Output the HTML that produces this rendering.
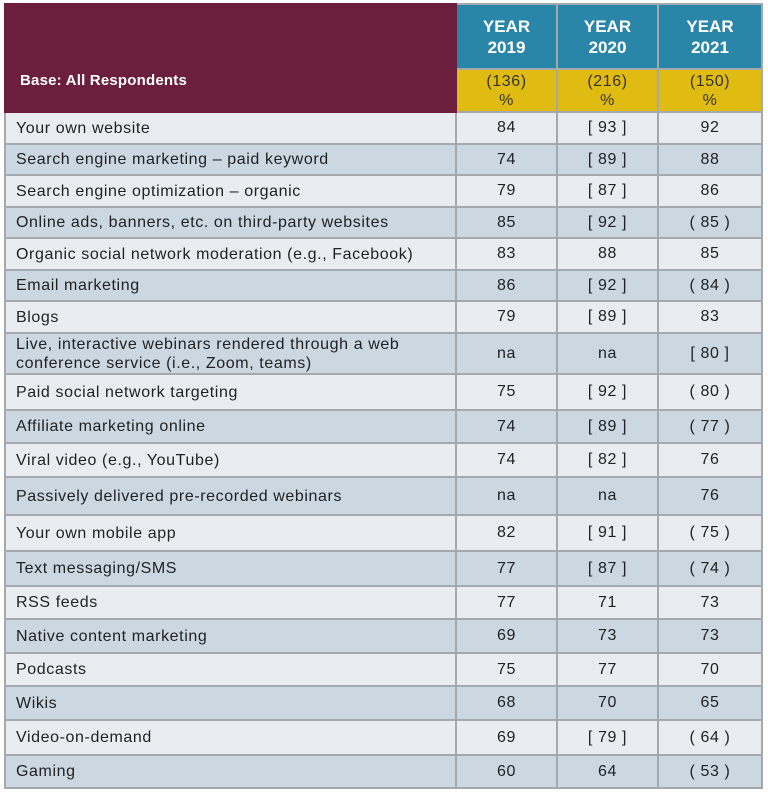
<!DOCTYPE html>
<html><head><style>
body{margin:0;width:768px;height:792px;background:#fff;overflow:hidden;font-family:"Liberation Sans",sans-serif;}
table{position:absolute;left:4px;top:3px;border-collapse:collapse;table-layout:fixed;width:757px;}
td{border:2px solid #a4a9ad;padding:0;font-size:16px;letter-spacing:0.6px;color:#222;}
td.l{padding-left:10px;line-height:19px;}
td.n{text-align:center;}
tr.a td{background:#e9edf1;}
tr.b td{background:#cbd7e1;}
.hm{background:#6b1f3c;color:#fff;font-weight:bold;font-size:15px;letter-spacing:0.2px;vertical-align:bottom;padding:0 0 22px 14px;border-color:#6b1f3c;}
.hb{background:#2a86a8;color:#fff;font-weight:bold;font-size:17px;letter-spacing:0;text-align:center;line-height:21px;}
.hy{background:#e0bb12;color:#333;text-align:center;font-size:16px;line-height:19px;}
</style></head><body>
<table>
<colgroup><col style="width:451px"><col style="width:101px"><col style="width:101px"><col style="width:104px"></colgroup>
<tr style="height:65px"><td class="hm" rowspan="2">Base: All Respondents</td><td class="hb">YEAR<br>2019</td><td class="hb">YEAR<br>2020</td><td class="hb">YEAR<br>2021</td></tr>
<tr style="height:43px"><td class="hy">(136)<br>%</td><td class="hy">(216)<br>%</td><td class="hy">(150)<br>%</td></tr>
<tr class="a" style="height:32px"><td class="l">Your own website</td><td class="n">84</td><td class="n">[ 93 ]</td><td class="n">92</td></tr>
<tr class="b" style="height:31px"><td class="l">Search engine marketing – paid keyword</td><td class="n">74</td><td class="n">[ 89 ]</td><td class="n">88</td></tr>
<tr class="a" style="height:32px"><td class="l">Search engine optimization – organic</td><td class="n">79</td><td class="n">[ 87 ]</td><td class="n">86</td></tr>
<tr class="b" style="height:31px"><td class="l">Online ads, banners, etc. on third-party websites</td><td class="n">85</td><td class="n">[ 92 ]</td><td class="n">( 85 )</td></tr>
<tr class="a" style="height:32px"><td class="l">Organic social network moderation (e.g., Facebook)</td><td class="n">83</td><td class="n">88</td><td class="n">85</td></tr>
<tr class="b" style="height:31px"><td class="l">Email marketing</td><td class="n">86</td><td class="n">[ 92 ]</td><td class="n">( 84 )</td></tr>
<tr class="a" style="height:32px"><td class="l">Blogs</td><td class="n">79</td><td class="n">[ 89 ]</td><td class="n">83</td></tr>
<tr class="b" style="height:41px"><td class="l">Live, interactive webinars rendered through a web<br>conference service (i.e., Zoom, teams)</td><td class="n">na</td><td class="n">na</td><td class="n">[ 80 ]</td></tr>
<tr class="a" style="height:36px"><td class="l">Paid social network targeting</td><td class="n">75</td><td class="n">[ 92 ]</td><td class="n">( 80 )</td></tr>
<tr class="b" style="height:33px"><td class="l">Affiliate marketing online</td><td class="n">74</td><td class="n">[ 89 ]</td><td class="n">( 77 )</td></tr>
<tr class="a" style="height:34px"><td class="l">Viral video (e.g., YouTube)</td><td class="n">74</td><td class="n">[ 82 ]</td><td class="n">76</td></tr>
<tr class="b" style="height:38px"><td class="l">Passively delivered pre-recorded webinars</td><td class="n">na</td><td class="n">na</td><td class="n">76</td></tr>
<tr class="a" style="height:36px"><td class="l">Your own mobile app</td><td class="n">82</td><td class="n">[ 91 ]</td><td class="n">( 75 )</td></tr>
<tr class="b" style="height:35px"><td class="l">Text messaging/SMS</td><td class="n">77</td><td class="n">[ 87 ]</td><td class="n">( 74 )</td></tr>
<tr class="a" style="height:33px"><td class="l">RSS feeds</td><td class="n">77</td><td class="n">71</td><td class="n">73</td></tr>
<tr class="b" style="height:34px"><td class="l">Native content marketing</td><td class="n">69</td><td class="n">73</td><td class="n">73</td></tr>
<tr class="a" style="height:33px"><td class="l">Podcasts</td><td class="n">75</td><td class="n">77</td><td class="n">70</td></tr>
<tr class="b" style="height:34px"><td class="l">Wikis</td><td class="n">68</td><td class="n">70</td><td class="n">65</td></tr>
<tr class="a" style="height:35px"><td class="l">Video-on-demand</td><td class="n">69</td><td class="n">[ 79 ]</td><td class="n">( 64 )</td></tr>
<tr class="b" style="height:33px"><td class="l">Gaming</td><td class="n">60</td><td class="n">64</td><td class="n">( 53 )</td></tr>
</table>
</body></html>
